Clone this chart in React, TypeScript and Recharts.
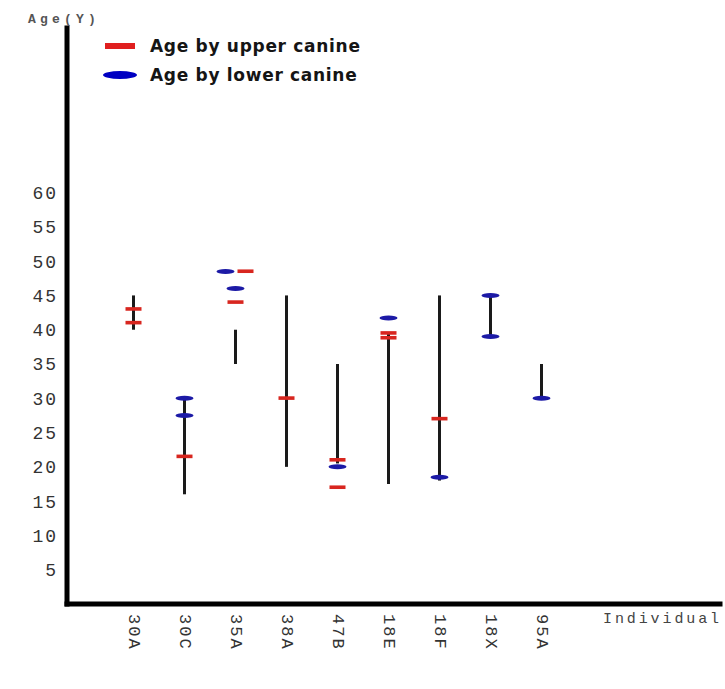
import { ComposedChart, Bar, Scatter, XAxis, YAxis, Label } from 'recharts';

const individuals = ['30A', '30C', '35A', '38A', '47B', '18E', '18F', '18X', '95A'];
const rangeLow = [40, 16, 35, 20, 20.5, 17.5, 18, 39, 30];
const rangeHigh = [45, 30, 40, 45, 35, 39.5, 45, 45, 35];
const upperCanine: number[][] = [[43, 41], [21.5], [48.5, 44], [30], [21, 17], [39.5, 38.8], [27], [], []];
const lowerCanine: number[][] = [[], [30, 27.5], [48.5, 46], [], [20], [41.7], [18.5], [45, 39], [30]];
const yTicks = [5, 10, 15, 20, 25, 30, 35, 40, 45, 50, 55, 60];

const RED = '#d8261f';
const BLUE = '#1c1aa6';
const MONO = '"Liberation Mono", "DejaVu Sans Mono", monospace';

const data = individuals.map((name, i) => ({
  name,
  range: [rangeLow[i], rangeHigh[i]],
  upper0: upperCanine[i][0] ?? null,
  upper1: upperCanine[i][1] ?? null,
  lower0: lowerCanine[i][0] ?? null,
  lower1: lowerCanine[i][1] ?? null,
  upperList: upperCanine[i],
  lowerList: lowerCanine[i],
}));

// short dash for upper canine, flat ellipse for lower; side by side when both share a value
const makeMark = (kind: 'upper' | 'lower', key: string) => (props: any) => {
  const { cx, cy, payload } = props;
  const v = payload?.[key];
  if (v == null || cx == null || cy == null || isNaN(cx) || isNaN(cy)) return <g />;
  if (kind === 'upper') {
    const dx = payload.lowerList.includes(v) ? 10 : 0;
    return <rect x={cx + dx - 8} y={cy - 2} width={16} height={3.6} fill={RED} />;
  }
  const dx = payload.upperList.includes(v) ? -10 : 0;
  return <ellipse cx={cx + dx} cy={cy} rx={9} ry={2.5} fill={BLUE} />;
};

const XTick = (props: any) => {
  const { x, y, payload } = props;
  return (
    <text
      transform={`translate(${x},${y + 2}) rotate(90)`}
      textAnchor="start"
      dominantBaseline="central"
      fontFamily={MONO}
      fontSize={17}
      letterSpacing={2}
      fill="#333"
    >
      {payload.value}
    </text>
  );
};

const legendText = {
  fontFamily: '"DejaVu Sans", sans-serif',
  fontSize: 17,
  fontWeight: 700,
  letterSpacing: 0.7,
  color: '#151515',
};

const LegendBox = () => (
  <div style={{ position: 'absolute', left: 103, top: 36, width: 320 }}>
    <div style={{ display: 'flex', alignItems: 'center', height: 20 }}>
      <div style={{ width: 30, height: 6, background: '#e01f1f', marginLeft: 2, marginRight: 15 }} />
      <span style={legendText}>Age by upper canine</span>
    </div>
    <div style={{ display: 'flex', alignItems: 'center', height: 20, marginTop: 9 }}>
      <div style={{ width: 34, height: 8, borderRadius: '50%', background: '#0000c2', marginRight: 13 }} />
      <span style={legendText}>Age by lower canine</span>
    </div>
  </div>
);

export default function App() {
  return (
    <div style={{ position: 'absolute', left: 0, top: 0, width: 725, height: 689, background: '#fff' }}>
      <ComposedChart width={725} height={689} data={data} margin={{ top: 28, right: 5, bottom: 25, left: 7 }}>
        <XAxis
          dataKey="name"
          type="category"
          padding={{ left: 41, right: 153 }}
          height={60}
          tickLine={false}
          axisLine={{ stroke: '#000', strokeWidth: 5, strokeLinecap: 'square' }}
          tick={<XTick />}
          interval={0}
        >
          <Label
            content={() => (
              <text x={603} y={623} fontFamily={MONO} fontSize={15} letterSpacing={2.9} fill="#444">
                Individual
              </text>
            )}
          />
        </XAxis>
        <YAxis
          type="number"
          domain={[0, 84]}
          ticks={yTicks}
          width={60}
          tickLine={false}
          tickSize={0}
          tickMargin={9}
          axisLine={{ stroke: '#000', strokeWidth: 5, strokeLinecap: 'square' }}
          tick={{ fontFamily: MONO, fontSize: 18, fill: '#333', letterSpacing: 2 }}
        >
          <Label
            content={() => (
              <text x={28} y={23} fontFamily={MONO} fontSize={13} fontWeight={700} letterSpacing={4.2} fill="#555">
                Age(Y)
              </text>
            )}
          />
        </YAxis>
        <Bar dataKey="range" barSize={3} fill="#1a1a1a" isAnimationActive={false} />
        <Scatter dataKey="upper0" shape={makeMark('upper', 'upper0')} isAnimationActive={false} />
        <Scatter dataKey="upper1" shape={makeMark('upper', 'upper1')} isAnimationActive={false} />
        <Scatter dataKey="lower0" shape={makeMark('lower', 'lower0')} isAnimationActive={false} />
        <Scatter dataKey="lower1" shape={makeMark('lower', 'lower1')} isAnimationActive={false} />
      </ComposedChart>
      <LegendBox />
    </div>
  );
}
